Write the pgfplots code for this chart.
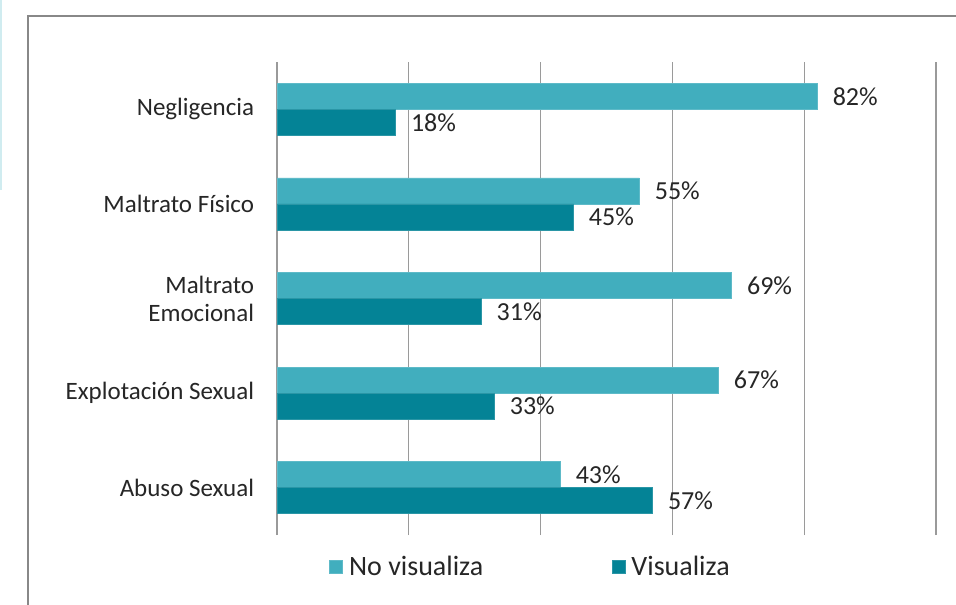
\documentclass[border=0pt]{standalone}
\usepackage{pgfplots}
\pgfplotsset{compat=1.18}
\usepackage{fontspec}
\setmainfont{Carlito}
\definecolor{lightteal}{HTML}{41AEBE}
\definecolor{darkteal}{HTML}{048396}
\definecolor{txt}{HTML}{262626}
\definecolor{gridc}{HTML}{9A9A9A}
\begin{document}
\begin{tikzpicture}
\useasboundingbox (0,0) rectangle (478bp,302.5bp);
\draw[color={rgb,255:red,208;green,236;blue,240}, line width=1bp] (0.5bp,302.5bp) -- (0.5bp,207.5bp);
\draw[color={rgb,255:red,136;green,136;blue,136}, line width=1bp] (14bp,0bp) -- (14bp,294.5bp) -- (478bp,294.5bp);
\begin{axis}[
  at={(138.5bp,35bp)}, anchor=south west,
  scale only axis, width=329.5bp, height=236.5bp,
  xmin=0, xmax=100, ymin=-0.5, ymax=4.5,
  /pgf/number format/assume math mode=true,
  xbar, bar width=13bp,
  axis lines*=left,
  x axis line style={draw=none},
  y axis line style={gridc, line width=0.6bp},
  xtick={20,40,60,80,100}, xticklabels={},
  xmajorgrids, major x grid style={gridc, line width=0.6bp},
  major x tick style={draw=none},
  ytick={0,1,2,3,4},
  yticklabels={Abuso Sexual,Explotación Sexual,{Maltrato\ \\Emocional},Maltrato Físico,Negligencia},
  major y tick style={draw=none},
  yticklabel style={font=\fontsize{12.5bp}{14bp}\selectfont, text=txt, align=right, inner sep=0pt, xshift=-7bp},
  extra y ticks={-0.5,0.5,1.5,2.5,3.5,4.5},
  extra y tick labels={},
  extra y tick style={major tick length=3.5bp, tick align=outside, major tick style={gridc, line width=0.6bp}},
  nodes near coords={\pgfmathprintnumber{\pgfplotspointmeta}\%},
  nodes near coords style={font=\fontsize{13bp}{15bp}\selectfont, text=txt, anchor=west, inner sep=0pt, xshift=7.5bp},
  legend columns=2,
  legend style={draw=none, fill=none, at={(0.385,-0.068)}, anchor=center,
    font=\fontsize{14bp}{16bp}\selectfont, text=txt,
    nodes={inner sep=1.2bp},
    /tikz/every even column/.append style={column sep=63bp}},
  legend image code/.code={\fill[#1] (0bp,-3.25bp) rectangle (6.5bp,3.25bp); \path[draw=none,fill=none] (0bp,0bp) -- (8.5bp,0bp);},
]
\addplot[fill=lightteal, draw=lightteal!85!white, bar shift=6.5bp] coordinates {(43,0) (67,1) (69,2) (55,3) (82,4)};
\addplot[fill=darkteal, draw=darkteal!85!white, bar shift=-6.5bp] coordinates {(57,0) (33,1) (31,2) (45,3) (18,4)};
\legend{No visualiza, Visualiza}
\end{axis}
\end{tikzpicture}
\end{document}
